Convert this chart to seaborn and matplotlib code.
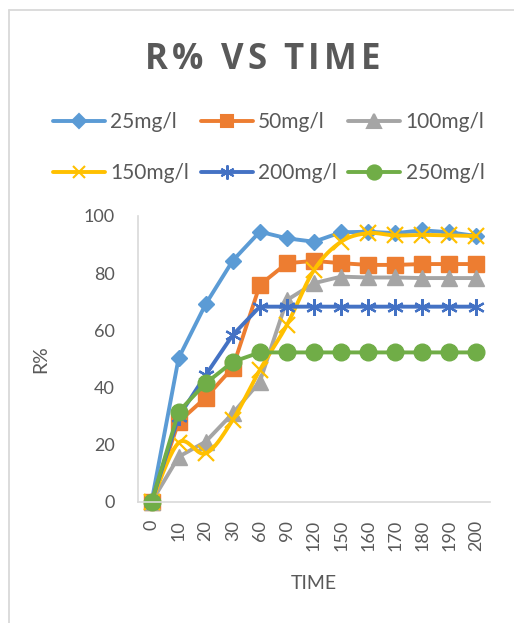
import numpy as np
import pandas as pd
import matplotlib
matplotlib.use("Agg")
import matplotlib.pyplot as plt
from matplotlib.lines import Line2D
import seaborn as sns

# Contact time (min) on a categorical axis
times = ["0", "10", "20", "30", "60", "90", "120", "150", "160", "170", "180", "190", "200"]

# Removal efficiency R% for each initial concentration
r_25 = [0, 50.3, 69.2, 84.4, 94.5, 92.2, 91.0, 94.3, 94.5, 94.0, 95.0, 94.3, 93.0]
r_50 = [0, 28.0, 36.5, 47.0, 75.9, 83.5, 84.3, 83.5, 82.9, 82.9, 83.2, 83.2, 83.2]
r_100 = [0, 15.8, 21.1, 31.0, 42.1, 70.6, 76.5, 78.8, 78.5, 78.5, 78.3, 78.3, 78.3]
r_150 = [0, 20.7, 17.0, 28.7, 46.2, 61.9, 81.1, 91.0, 94.0, 93.2, 93.4, 93.2, 93.0]
r_200 = [0, 29.8, 44.4, 58.4, 68.3, 68.3, 68.3, 68.3, 68.3, 68.3, 68.3, 68.3, 68.3]
r_250 = [0, 31.6, 41.5, 49.0, 52.3, 52.3, 52.3, 52.3, 52.3, 52.3, 52.3, 52.3, 52.3]

series_names = ["25mg/l", "50mg/l", "100mg/l", "150mg/l", "200mg/l", "250mg/l"]
series_values = [r_25, r_50, r_100, r_150, r_200, r_250]
colors = ["#5B9BD5", "#ED7D31", "#A5A5A5", "#FFC000", "#4472C4", "#70AD47"]
markers = ["D", "s", "^", "x", (6, 2, 0), "o"]
msizes = [8.5, 11, 12, 11, 12, 12]
smooth = [False, False, False, True, False, False]

TEXT = "#595959"
GRID = "#D9D9D9"

sns.set_theme(style="white")
plt.rcParams["font.family"] = ["Lato", "DejaVu Sans"]

W, H = 514, 623
fig = plt.figure(figsize=(W / 100, H / 100), dpi=100)
fig.patch.set_facecolor("white")

ax = fig.add_axes([138 / W, 1 - 502 / H, (490 - 138) / W, (502 - 216) / H])

pos = np.arange(len(times))
df = pd.DataFrame({"pos": np.tile(pos, len(series_names)),
                   "series": np.repeat(series_names, len(times)),
                   "R": np.concatenate(series_values)})


def catmull_rom(x, y, steps=20):
    """Smooth curve through the points (Excel-style smoothed line)."""
    x = np.asarray(x, float)
    y = np.asarray(y, float)
    px = np.concatenate([[x[0]], x, [x[-1]]])
    py = np.concatenate([[y[0]], y, [y[-1]]])
    xs, ys = [], []
    for i in range(1, len(px) - 2):
        p0, p1, p2, p3 = (np.array([px[j], py[j]]) for j in (i - 1, i, i + 1, i + 2))
        c1 = p1 + (p2 - p0) / 6.0
        c2 = p2 - (p3 - p1) / 6.0
        t = np.linspace(0, 1, steps, endpoint=(i == len(px) - 3))[:, None]
        b = ((1 - t) ** 3) * p1 + 3 * ((1 - t) ** 2) * t * c1 + 3 * (1 - t) * t ** 2 * c2 + t ** 3 * p2
        xs.append(b[:, 0])
        ys.append(b[:, 1])
    return np.concatenate(xs), np.concatenate(ys)


LW = 2.8
for name, col, mk, ms, sm in zip(series_names, colors, markers, msizes, smooth):
    sub = df[df["series"] == name]
    filled = mk in ("D", "s", "^", "o")
    if sm:
        cx, cy = catmull_rom(sub["pos"], sub["R"])
        sns.lineplot(x=cx, y=cy, ax=ax, color=col, linewidth=LW, sort=False,
                     estimator=None, legend=False)
        sns.lineplot(data=sub, x="pos", y="R", ax=ax, color=col, linewidth=0,
                     marker=mk, markersize=ms, markeredgecolor=col,
                     markeredgewidth=1.6, estimator=None, legend=False)
    else:
        sns.lineplot(data=sub, x="pos", y="R", ax=ax, color=col, linewidth=LW,
                     marker=mk, markersize=ms, markeredgecolor=col,
                     markeredgewidth=1.0 if filled else 1.6,
                     estimator=None, legend=False)

for ln in ax.lines:
    ln.set_clip_on(False)

ax.set_xlim(-0.5, len(times) - 0.5)
ax.set_ylim(0, 100)
ax.set_xticks(pos)
ax.set_xticklabels(times, rotation=90)
ax.set_yticks([0, 20, 40, 60, 80, 100])
ax.tick_params(axis="both", length=0, labelsize=13, labelcolor=TEXT)
ax.tick_params(axis="y", pad=16.5)
ax.tick_params(axis="x", pad=13)
for lab in ax.get_xticklabels():
    lab.set_verticalalignment("top")

for side in ("top", "right"):
    ax.spines[side].set_visible(False)
for side in ("left", "bottom"):
    ax.spines[side].set_color(GRID)
    ax.spines[side].set_linewidth(1.2)

ax.set_xlabel("TIME", fontsize=14, color=TEXT)
ax.set_ylabel("R%", fontsize=14, color=TEXT)
ax.xaxis.set_label_coords(0.5, (502 - 575) / 286)
ax.yaxis.set_label_coords((49 - 138) / 352, 0.5)

# Legend in two rows of three, filled row by row
handles = [Line2D([], [], color=c, lw=LW, marker=m, markersize=s * 0.85,
                  markeredgecolor=c, markeredgewidth=1.5)
           for c, m, s in zip(colors, markers, msizes)]
order = [0, 3, 1, 4, 2, 5]
fig.legend([handles[i] for i in order], [series_names[i] for i in order],
           loc="upper left", bbox_to_anchor=(53 / W, 1 - 112 / H), ncol=3,
           frameon=False, fontsize=15, labelcolor=TEXT, borderpad=0,
           borderaxespad=0, handlelength=2.5, handletextpad=0.25,
           columnspacing=0.55, labelspacing=1.5)

# Title with widened letter spacing
title = "R% VS TIME"
fs = 25
renderer = fig.canvas.get_renderer()
widths = []
for ch in title:
    if ch == " ":
        widths.append(0.26 * fs * 100 / 72)
        continue
    t = fig.text(0, 0, ch, fontsize=fs, fontweight="bold", family="Open Sans")
    widths.append(t.get_window_extent(renderer).width)
    t.remove()
x0, x1 = 145, 380
gap = (x1 - x0 - sum(widths)) / (len(title) - 1)
x = x0
for ch, w in zip(title, widths):
    if ch != " ":
        fig.text(x / W, 1 - 69 / H, ch, fontsize=fs, fontweight="bold",
                 family="Open Sans", color=TEXT, ha="left", va="baseline")
    x += w + gap

# Chart area border (left and top edges)
fig.add_artist(Line2D([8.5 / W, 8.5 / W], [0, 1 - 9.5 / H], transform=fig.transFigure,
                      color=GRID, lw=1.3))
fig.add_artist(Line2D([8.5 / W, 1], [1 - 9.5 / H, 1 - 9.5 / H], transform=fig.transFigure,
                      color=GRID, lw=1.3))

fig.savefig("out.png", dpi=100, facecolor="white")
